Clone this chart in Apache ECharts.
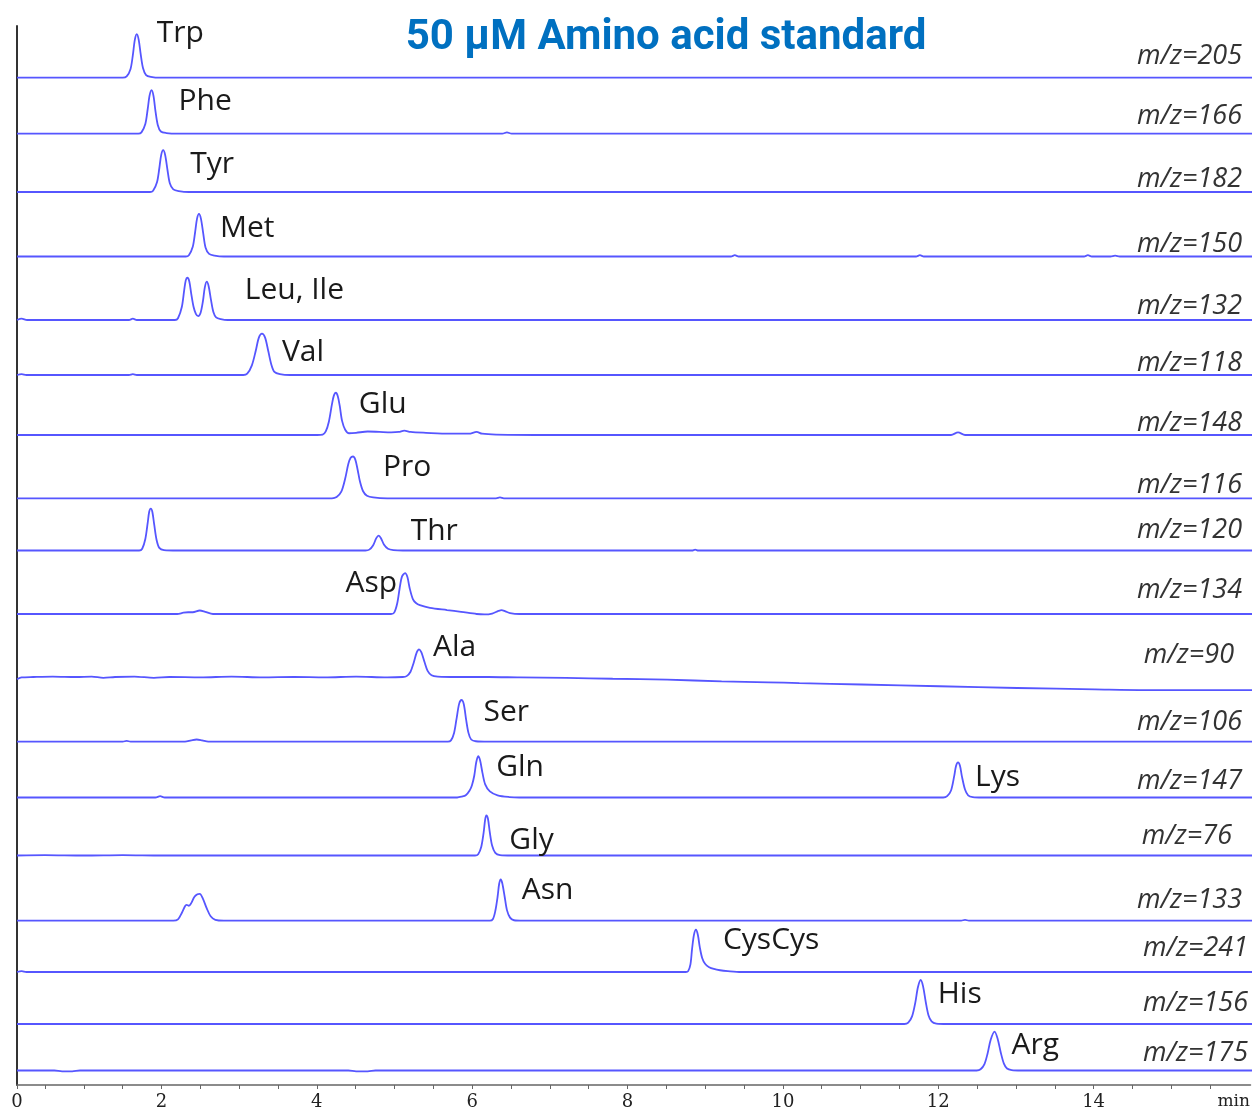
<!DOCTYPE html>
<html><head><meta charset="utf-8">
<script src="https://cdn.jsdelivr.net/npm/echarts@6/dist/echarts.min.js"></script>
<style>html,body{margin:0;padding:0;background:#fff}#c{width:1253px;height:1111px}</style>
</head><body><div id="c"></div>
<script>
// ---------------- DATA ----------------
const chartTitle = '50 μM Amino acid standard';
const mzLabels = ['m/z=205','m/z=166','m/z=182','m/z=150','m/z=132','m/z=118','m/z=148','m/z=116','m/z=120',
  'm/z=134','m/z=90','m/z=106','m/z=147','m/z=76','m/z=133','m/z=241','m/z=156','m/z=175'];
const xTickValues = [0.14, 2, 4, 6, 8, 10, 12, 14];
const xTickLabels = ['0','2','4','6','8','10','12','14'];
const xMinorTicks = [0.14,0.5,1,1.5,2,2.5,3,3.5,4,4.5,5,5.5,6,6.5,7,7.5,8,8.5,9,9.5,10,10.5,11,11.5,12,12.5,13,13.5,14,14.5,15,15.5];
const xAxisName = 'min';

// [time (min), relative intensity]
const trp = [[0.14,0],[1.2,0],[1.5,0],[1.55,3],[1.6,20],[1.63,52],[1.655,86],[1.68,99],[1.705,86],[1.73,54],[1.76,22],[1.80,6],[1.86,2],[1.98,0],[16.02,0]];
const phe = [[0.14,0],[1.5,0],[1.7,0],[1.74,3],[1.79,22],[1.82,55],[1.845,87],[1.87,99],[1.895,86],[1.92,52],[1.95,20],[1.99,5],[2.06,1.5],[2.2,0],[6.38,0],[6.44,3],[6.5,0],[16.02,0]];
const tyr = [[0.14,0],[1.6,0],[1.85,0],[1.89,3],[1.94,22],[1.97,54],[1.995,85],[2.02,95],[2.045,84],[2.075,50],[2.105,20],[2.15,6],[2.22,2],[2.35,0],[16.02,0]];
const met = [[0.14,0],[2.0,0],[2.31,0],[2.35,3],[2.40,22],[2.43,55],[2.455,86],[2.48,97],[2.505,86],[2.535,52],[2.565,20],[2.61,6],[2.68,2],[2.8,0],[9.32,0],[9.37,3],[9.42,0],[11.7,0],[11.75,3],[11.8,0],[13.86,0],[13.91,3],[13.96,0],[14.2,0],[14.26,2],[14.32,0],[16.02,0]];
const leuIle = [[0.14,0],[0.2,3],[0.27,0],[1.58,0],[1.63,3],[1.68,0],[2.17,0],[2.21,4],[2.26,30],[2.29,68],[2.31,90],[2.33,96],[2.355,88],[2.38,60],[2.41,30],[2.44,14],[2.47,9],[2.50,16],[2.53,42],[2.555,74],[2.58,87],[2.605,76],[2.635,45],[2.665,18],[2.70,6],[2.76,2],[2.85,0],[16.02,0]];
const val = [[0.14,0],[0.2,2],[0.26,0],[1.58,0],[1.63,2],[1.68,0],[3.05,0],[3.10,3],[3.16,22],[3.21,55],[3.25,85],[3.29,94],[3.33,85],[3.37,55],[3.41,24],[3.45,7],[3.52,2],[3.65,0],[16.02,0]];
const glu = [[0.14,0],[4.0,0],[4.07,1],[4.11,8],[4.15,30],[4.19,70],[4.215,90],[4.24,96],[4.265,88],[4.29,66],[4.32,32],[4.36,12],[4.41,4],[4.5,5],[4.65,8],[4.8,7],[4.95,6],[5.05,7],[5.12,10],[5.2,7],[5.4,5],[5.7,3],[5.95,3],[6.05,7],[6.12,3],[6.3,1],[7.0,0],[12.15,0],[12.24,6],[12.33,0],[16.02,0]];
const pro = [[0.14,0],[4.0,0],[4.19,0],[4.25,3],[4.31,15],[4.36,45],[4.40,78],[4.43,92],[4.46,95],[4.49,88],[4.52,65],[4.55,38],[4.59,16],[4.64,6],[4.72,2],[4.9,0],[6.30,0],[6.35,2],[6.40,0],[16.02,0]];
const thr = [[0.14,0],[1.5,0],[1.71,0],[1.75,4],[1.79,26],[1.82,62],[1.84,88],[1.86,95],[1.88,88],[1.905,58],[1.935,24],[1.97,6],[2.03,1],[2.2,0],[4.62,0],[4.67,2],[4.72,12],[4.76,28],[4.79,34],[4.82,28],[4.86,13],[4.91,4],[4.98,1],[5.1,0],[8.82,0],[8.86,2],[8.9,0],[16.02,0]];
const asp = [[0.14,0],[2.2,0],[2.28,3],[2.34,4],[2.40,4],[2.49,8],[2.56,5],[2.66,0],[4.95,0],[4.99,3],[5.03,25],[5.06,58],[5.09,85],[5.13,93],[5.16,84],[5.19,58],[5.23,34],[5.27,25],[5.32,20],[5.45,14],[5.67,9],[5.85,5],[6.05,0],[6.15,-1],[6.25,1],[6.33,7],[6.37,9],[6.42,6],[6.48,2],[6.6,0],[16.02,0]];
const ala = [[0.14,-5],[0.2,-1],[0.35,0],[0.6,1],[0.9,0],[1.1,1],[1.25,-2],[1.4,0],[1.65,1],[1.9,-2],[2.1,0],[2.5,-1],[2.9,1],[3.3,-1],[3.7,0],[4.1,-1],[4.5,1],[4.9,-1],[5.1,0],[5.15,2],[5.2,12],[5.24,32],[5.28,56],[5.31,63],[5.34,56],[5.38,34],[5.42,14],[5.47,4],[5.55,1],[5.8,0],[6.2,0],[6.6,-1],[7.2,-2],[7.8,-4],[8.5,-6],[9.2,-10],[9.8,-12],[10.2,-14],[11,-17],[12,-21],[13,-25],[14,-28],[15,-30],[16.02,-30]];
const ser = [[0.14,0],[1.5,0],[1.55,2],[1.6,0],[2.3,0],[2.38,3],[2.45,5],[2.52,3],[2.6,0],[5.68,0],[5.72,3],[5.76,20],[5.79,50],[5.825,86],[5.855,95],[5.885,85],[5.915,50],[5.945,20],[5.98,5],[6.04,1],[6.2,0],[16.02,0]];
const glnLys = [[0.14,0],[1.92,0],[1.98,3],[2.04,0],[5.80,0],[5.86,2],[5.91,5],[5.96,16],[5.99,28],[6.02,50],[6.045,80],[6.07,94],[6.095,84],[6.125,56],[6.16,30],[6.22,14],[6.32,5],[6.47,1],[6.6,0],[12.05,0],[12.10,3],[12.15,16],[12.19,48],[12.215,72],[12.24,80],[12.265,72],[12.29,48],[12.33,18],[12.37,5],[12.43,1],[12.55,0],[16.02,0]];
const gly = [[0.14,0],[0.5,1],[1.0,0],[1.5,1],[2.0,0],[6.03,0],[6.07,3],[6.11,20],[6.14,52],[6.16,82],[6.175,91],[6.195,84],[6.22,52],[6.25,22],[6.29,6],[6.35,1],[6.5,0],[16.02,0]];
const asn = [[0.14,0],[2.15,0],[2.21,3],[2.26,18],[2.30,33],[2.32,36],[2.35,34],[2.38,40],[2.42,54],[2.46,60],[2.49,61],[2.53,50],[2.58,28],[2.63,10],[2.69,2],[2.8,0],[6.22,0],[6.26,4],[6.29,22],[6.32,55],[6.34,84],[6.36,94],[6.38,85],[6.41,55],[6.44,24],[6.48,7],[6.53,1],[6.65,0],[12.28,0],[12.33,2],[12.38,0],[16.02,0]];
const cysCys = [[0.14,0],[0.2,2],[0.26,0],[8.74,0],[8.77,2],[8.80,18],[8.82,52],[8.845,85],[8.87,96],[8.895,84],[8.92,56],[8.95,32],[8.99,18],[9.04,11],[9.10,7],[9.18,4],[9.28,2],[9.45,0],[16.02,0]];
const his = [[0.14,0],[11.55,0],[11.6,3],[11.65,18],[11.69,48],[11.725,84],[11.76,100],[11.79,86],[11.825,50],[11.86,20],[11.90,6],[11.96,1],[12.1,0],[16.02,0]];
const arg = [[0.14,0],[0.62,0],[0.72,-2],[0.85,-2],[0.95,0],[4.4,0],[4.5,-2],[4.65,-2],[4.75,0],[12.48,0],[12.53,3],[12.58,16],[12.62,42],[12.66,76],[12.71,96],[12.75,78],[12.79,44],[12.83,17],[12.87,5],[12.93,1],[13.05,0],[16.02,0]];

const traces = [trp, phe, tyr, met, leuIle, val, glu, pro, thr, asp, ala, ser, glnLys, gly, asn, cysCys, his, arg];

// peak annotations: trace index, text, peak time, peak intensity
const peakTrace = [0,1,2,3,4,5,6,7,8,9,10,11,12,12,13,14,15,16,17];
const peakText  = ['Trp','Phe','Tyr','Met','Leu, Ile','Val','Glu','Pro','Thr','Asp','Ala','Ser','Gln','Lys','Gly','Asn','CysCys','His','Arg'];
const peakTime  = [1.68,1.87,2.02,2.48,2.58,3.29,4.24,4.46,4.79,5.13,5.31,5.855,6.07,12.24,6.175,6.36,8.87,11.76,12.71];
const peakValue = [99,99,95,97,87,94,96,95,34,93,63,95,94,80,91,94,96,100,96];

// ---------------- LAYOUT ----------------
const baselines = [77.7,133.7,192,256.5,320,375,435,498.3,550.5,614,677,741.7,797.5,855.5,920.7,972,1024,1074];
const labelOffsets = [[20,-1],[27,11],[27,14.5],[21,15],[38,9],[20,19],[23,12],[30,11],[32,-4],[-8,10],[14,-2],[22,13],[18,11],[17,15],[23,25],[21,11],[27,11],[17,14],[17,14]];
const mzRight = [1242,1242,1242,1242,1242,1242,1242,1242,1242,1242,1234,1242,1242,1232,1242,1248,1248,1248];
const mzCenter = [54,114.7,177,242,304,361,421,483,528,588,653,720,779,834,898,946,1001,1051];

const X_MIN = 0.14, X_MAX = 16.02;
const LINE = '#5656ff';
const LEFT = 17, RIGHT = 1;

const grids = [], xAxes = [], yAxes = [], series = [];
traces.forEach((d, i) => {
  grids.push({left: LEFT, right: RIGHT, top: baselines[i] - 44, height: 88});
  xAxes.push({type: 'value', gridIndex: i, min: X_MIN, max: X_MAX, show: false});
  yAxes.push({type: 'value', gridIndex: i, min: -100, max: 100, show: false});
  const mp = [];
  peakTrace.forEach((ti, k) => {
    if (ti !== i) return;
    const off = labelOffsets[k];
    mp.push({
      name: peakText[k], coord: [peakTime[k], peakValue[k]],
      label: {align: off[0] < 0 ? 'right' : 'left', offset: off}
    });
  });
  series.push({
    type: 'line', xAxisIndex: i, yAxisIndex: i, data: d,
    showSymbol: false, smooth: 0.3, silent: true,
    lineStyle: {color: LINE, width: 1.8},
    markPoint: {
      symbol: 'circle', symbolSize: 1, silent: true, animation: false,
      itemStyle: {color: 'rgba(0,0,0,0)'},
      label: {show: true, position: 'inside', verticalAlign: 'middle', formatter: '{b}',
        color: '#1a1a1a', fontFamily: 'Open Sans', fontSize: 30},
      data: mp
    }
  });
});

// axis frame grid
const ai = traces.length;
grids.push({left: LEFT, right: RIGHT, top: 26, bottom: 23});
xAxes.push({
  type: 'value', gridIndex: ai, min: X_MIN, max: X_MAX,
  axisLine: {show: true, onZero: false, lineStyle: {color: '#666', width: 1.5}},
  axisTick: {show: true, customValues: xMinorTicks, length: 4, lineStyle: {color: '#666', width: 1}},
  axisLabel: {show: true, customValues: xTickValues, margin: 8,
    formatter: v => xTickLabels[xTickValues.indexOf(v)],
    fontFamily: 'DejaVu Serif', fontSize: 18, color: '#222'},
  splitLine: {show: false},
  name: xAxisName, nameLocation: 'end', nameGap: -33,
  nameTextStyle: {fontFamily: 'DejaVu Serif', fontSize: 17, color: '#222', verticalAlign: 'top', align: 'left', padding: [8,0,0,0]}
});
yAxes.push({
  type: 'value', gridIndex: ai, min: 0, max: 1,
  axisLine: {show: true, onZero: false, lineStyle: {color: '#333', width: 2}},
  axisTick: {show: false}, axisLabel: {show: false}, splitLine: {show: false}
});

const graphics = [{
  type: 'text', x: 666, y: 38, silent: true,
  style: {text: chartTitle, fill: '#0070C0', font: 'bold 42px Roboto', align: 'center', verticalAlign: 'middle'}
}];
mzLabels.forEach((t, i) => {
  graphics.push({
    type: 'text', x: mzRight[i], y: mzCenter[i] + 2, silent: true,
    style: {text: t, fill: '#333', font: 'italic 27px "Open Sans"', align: 'right', verticalAlign: 'middle'}
  });
});

const chart = echarts.init(document.getElementById('c'), null, {renderer: 'canvas'});
chart.setOption({
  animation: false,
  backgroundColor: '#fff',
  grid: grids, xAxis: xAxes, yAxis: yAxes, series: series,
  graphic: graphics
});
</script>
</body></html>
